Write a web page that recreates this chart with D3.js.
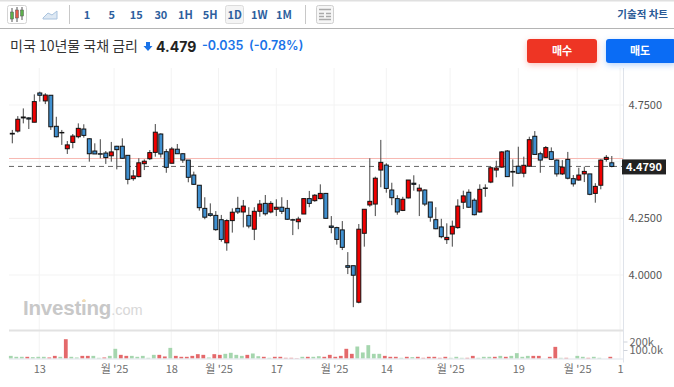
<!DOCTYPE html>
<html>
<head>
<meta charset="utf-8">
<script src="https://cdnjs.cloudflare.com/ajax/libs/d3/7.8.5/d3.min.js"></script>
<style>
  html, body { margin: 0; padding: 0; background: #fff; overflow: hidden; }
  svg { display: block; }
  text { font-family: "Noto Sans CJK KR", "Noto Sans", sans-serif; }
</style>
</head>
<body>
<div id="chart"></div>
<script>
const opens = [4.625,4.635,4.697,4.693,4.674,4.803,4.768,4.793,4.656,4.629,
  4.557,4.585,4.610,4.644,4.601,4.547,4.535,4.538,4.526,4.568,
  4.568,4.528,4.425,4.434,4.491,4.513,4.541,4.622,4.544,4.493,
  4.555,4.535,4.507,4.441,4.396,4.294,4.270,4.263,4.244,4.142,
  4.240,4.294,4.278,4.263,4.202,4.281,4.316,4.278,4.290,4.299,
  4.294,4.244,4.235,4.269,4.337,4.328,4.337,4.360,4.216,4.209,
  4.199,4.041,4.041,3.880,4.184,4.309,4.313,4.463,4.485,4.375,
  4.337,4.285,4.340,4.405,4.371,4.375,4.322,4.244,4.212,4.156,
  4.181,4.209,4.321,4.365,4.330,4.278,4.384,4.410,4.463,4.476,
  4.547,4.457,4.480,4.449,4.480,4.612,4.535,4.519,4.544,4.507,
  4.446,4.510,4.425,4.419,4.446,4.446,4.360,4.396,4.510,4.495]
const highs = [4.640,4.701,4.735,4.696,4.797,4.809,4.802,4.793,4.698,4.640,
  4.591,4.622,4.669,4.665,4.603,4.581,4.599,4.547,4.587,4.570,
  4.603,4.528,4.463,4.515,4.510,4.551,4.666,4.625,4.556,4.565,
  4.578,4.537,4.507,4.456,4.397,4.343,4.316,4.282,4.265,4.246,
  4.294,4.345,4.331,4.299,4.299,4.331,4.353,4.326,4.334,4.343,
  4.331,4.248,4.257,4.338,4.371,4.357,4.400,4.362,4.260,4.213,
  4.238,4.101,4.041,4.225,4.290,4.515,4.434,4.596,4.493,4.407,
  4.352,4.345,4.419,4.440,4.400,4.378,4.322,4.299,4.248,4.228,
  4.240,4.334,4.372,4.378,4.338,4.400,4.400,4.478,4.504,4.546,
  4.551,4.510,4.566,4.522,4.610,4.635,4.544,4.569,4.563,4.510,
  4.507,4.543,4.441,4.473,4.478,4.446,4.405,4.510,4.529,4.525]
const lows = [4.581,4.628,4.669,4.644,4.674,4.765,4.754,4.640,4.607,4.574,
  4.534,4.559,4.603,4.606,4.500,4.534,4.515,4.490,4.500,4.466,
  4.512,4.400,4.416,4.431,4.463,4.507,4.522,4.518,4.451,4.493,
  4.534,4.495,4.409,4.397,4.284,4.246,4.257,4.195,4.147,4.107,
  4.187,4.269,4.210,4.206,4.154,4.257,4.262,4.272,4.260,4.269,
  4.243,4.176,4.202,4.269,4.299,4.323,4.334,4.250,4.184,4.134,
  4.110,4.004,3.858,3.875,4.125,4.301,4.260,4.387,4.363,4.308,
  4.266,4.282,4.338,4.372,4.260,4.304,4.235,4.202,4.162,4.137,
  4.125,4.204,4.291,4.296,4.263,4.275,4.345,4.405,4.431,4.473,
  4.434,4.390,4.446,4.431,4.478,4.530,4.451,4.516,4.507,4.434,
  4.441,4.422,4.390,4.416,4.410,4.352,4.319,4.378,4.500,4.475]
const closes = [4.622,4.687,4.693,4.688,4.765,4.793,4.794,4.654,4.610,4.627,
  4.574,4.613,4.647,4.616,4.535,4.534,4.533,4.518,4.543,4.553,
  4.515,4.422,4.437,4.495,4.502,4.540,4.630,4.534,4.475,4.556,
  4.535,4.507,4.431,4.400,4.297,4.255,4.263,4.200,4.157,4.240,
  4.277,4.278,4.304,4.216,4.281,4.313,4.270,4.316,4.299,4.281,
  4.246,4.242,4.247,4.337,4.316,4.352,4.360,4.250,4.210,4.157,
  4.122,4.034,3.999,4.202,4.290,4.325,4.427,4.497,4.382,4.341,
  4.278,4.334,4.419,4.400,4.383,4.313,4.255,4.204,4.169,4.166,
  4.215,4.304,4.349,4.299,4.266,4.378,4.382,4.473,4.472,4.543,
  4.434,4.454,4.449,4.484,4.597,4.532,4.507,4.562,4.510,4.446,
  4.476,4.427,4.402,4.441,4.457,4.356,4.391,4.507,4.519,4.479]

// volume in thousands, and whether the bar is the red kind
const volumes = [31,20,20,20,16,20,20,12,31,20,
  227,20,12,31,31,31,8,12,31,114,
  43,31,31,20,31,8,43,43,24,125,
  31,20,20,31,51,43,12,51,43,55,
  67,43,31,43,59,27,20,8,20,20,
  8,8,4,20,20,20,27,20,43,20,
  31,114,55,141,71,157,55,55,31,20,
  20,8,20,16,20,8,20,20,8,20,
  8,20,8,8,31,8,20,20,20,31,
  20,31,63,20,31,31,31,0,20,137,
  8,8,0,31,20,8,20,8,0,20]
const volumeRed = [0,0,0,1,0,0,0,1,1,0,
  1,0,0,1,1,0,0,1,0,0,
  1,1,0,0,0,0,0,1,1,0,
  1,1,1,1,1,1,0,1,1,0,
  0,0,0,1,0,0,1,0,1,1,
  1,1,1,0,1,0,0,1,1,1,
  1,1,1,0,0,0,0,0,1,1,
  1,0,1,0,1,1,1,1,1,1,
  0,0,0,1,1,0,0,0,1,0,
  1,0,0,0,0,1,1,0,1,1,
  0,1,0,0,0,1,0,0,0,1]

const priceTicks = [4.75, 4.5, 4.25, 4.0]
const priceLabels = [4.75, 4.25, 4.0]
const volumeTicks = [200, 100]
const timeTicks = [4.9, 18.5, 28.9, 37.5, 48, 58.5, 68, 79.6, 92, 102.7, 110.5]
const timeLabels = ['13', "월 '25", '18', "월 '25", '17', "월 '25", '14', "월 '25", '19', "월 '25", '1']
const intervals = ['1', '5', '15', '30', '1H', '5H', '1D', '1W', '1M']
const lastPrice = 4.479
const prevClose = 4.514

const width = 674
const height = 387
const plot = { left: 9, right: 623.5, top: 68, bottom: 358.5 }

const svg = d3.select('#chart').append('svg')
  .attr('width', width)
  .attr('height', height)

const x = d3.scaleLinear().domain([0, 109]).range([12.3, 611.8])
const y = d3.scaleLinear().domain([4.0, 4.75]).range([275, 105])
const yVol = d3.scaleLinear().domain([0, 200]).range([358.5, 341.5])

// chart grid
const grid = svg.append('g').attr('stroke', '#f3f3f3')
grid.selectAll('.h').data(priceTicks).join('line')
  .attr('x1', plot.left).attr('x2', plot.right)
  .attr('y1', d => y(d)).attr('y2', d => y(d))
grid.selectAll('.v').data(timeTicks).join('line')
  .attr('x1', d => x(d)).attr('x2', d => x(d))
  .attr('y1', plot.top).attr('y2', plot.bottom)

// watermark
const mark = svg.append('text')
  .attr('x', 23).attr('y', 315)
  .attr('fill', '#c8c8c8')
  .style('font-family', '"Liberation Sans", sans-serif')
mark.append('tspan')
  .attr('font-size', 20.5).attr('font-weight', 700).attr('letter-spacing', -0.2)
  .text('Investing')
mark.append('tspan')
  .attr('font-size', 14.5).attr('fill', '#d8d8d8')
  .text('.com')
svg.append('circle').attr('cx', 84).attr('cy', 300.5).attr('r', 1.5).attr('fill', '#f6dcae')

// reference lines
svg.append('line')
  .attr('x1', plot.left).attr('x2', plot.right)
  .attr('y1', y(prevClose)).attr('y2', y(prevClose))
  .attr('stroke', '#f7b9b3')
svg.append('line')
  .attr('x1', plot.left).attr('x2', plot.right)
  .attr('y1', y(lastPrice)).attr('y2', y(lastPrice))
  .attr('stroke', '#666')
  .attr('stroke-dasharray', '5 4')

// candles
const candles = svg.append('g').selectAll('g')
  .data(d3.range(opens.length))
  .join('g')

candles.append('line')
  .attr('x1', i => x(i)).attr('x2', i => x(i))
  .attr('y1', i => y(highs[i])).attr('y2', i => y(lows[i]))
  .attr('stroke', '#444')

candles.append('rect')
  .attr('x', i => x(i) - 2)
  .attr('width', 4)
  .attr('y', i => y(Math.max(opens[i], closes[i])))
  .attr('height', i => Math.abs(y(opens[i]) - y(closes[i])))
  .attr('fill', i => closes[i] >= opens[i] ? '#f00000' : '#4090d0')
  .attr('stroke', '#111')

// volume bars
svg.append('g').selectAll('rect')
  .data(volumes)
  .join('rect')
  .attr('x', (d, i) => x(i) - 3.4)
  .attr('width', 3.8)
  .attr('y', d => yVol(d))
  .attr('height', d => yVol(0) - yVol(d))
  .attr('fill', (d, i) => volumeRed[i] ? '#e4696b' : '#a5d6ae')

// panel frame
svg.append('rect')
  .attr('x', plot.left).attr('y', 329.5)
  .attr('width', plot.right - plot.left).attr('height', 2)
  .attr('fill', '#e2e2e2')
svg.append('line')
  .attr('x1', plot.left).attr('x2', plot.right)
  .attr('y1', plot.bottom + 0.5).attr('y2', plot.bottom + 0.5)
  .attr('stroke', '#dfe3ea')
svg.append('line')
  .attr('x1', plot.right).attr('x2', plot.right)
  .attr('y1', plot.top).attr('y2', plot.bottom + 4)
  .attr('stroke', '#dfe3ea')

// axes
const priceAxis = svg.append('g')
  .attr('transform', `translate(${plot.right},0)`)
  .call(d3.axisRight(y).tickValues(priceLabels).tickFormat(d3.format('.4f')).tickSize(0).tickPadding(5))
priceAxis.select('.domain').remove()
priceAxis.selectAll('text').attr('font-size', 11).attr('fill', '#555')

const volAxis = svg.append('g')
  .attr('transform', `translate(${plot.right},0)`)
  .call(d3.axisRight(yVol).tickValues(volumeTicks)
    .tickFormat(d => d === 100 ? '100.0k' : d + 'k').tickSize(4).tickPadding(2))
volAxis.select('.domain').remove()
volAxis.selectAll('line').attr('stroke', '#cfd3da')
volAxis.selectAll('text').attr('font-size', 11).attr('fill', '#666')

const timeAxis = svg.append('g')
  .attr('transform', `translate(0,${plot.bottom})`)
  .call(d3.axisBottom(x).tickValues(timeTicks)
    .tickFormat((d, i) => timeLabels[i]).tickSize(0).tickPadding(7))
timeAxis.select('.domain').remove()
timeAxis.selectAll('text').attr('font-size', 11).attr('fill', '#707070')

// last price tag
svg.append('rect')
  .attr('x', 622).attr('y', y(lastPrice) - 7)
  .attr('width', 44).attr('height', 15)
  .attr('fill', '#222')
svg.append('text')
  .attr('x', 644).attr('y', y(lastPrice) + 0.5)
  .attr('dy', '0.35em').attr('text-anchor', 'middle')
  .attr('font-size', 11).attr('font-weight', 700).attr('fill', '#fff')
  .text(d3.format('.4f')(lastPrice))

// toolbar
svg.append('rect').attr('x', 0).attr('y', 0).attr('width', width).attr('height', 1.5).attr('fill', '#e0e0e0')
svg.append('rect').attr('x', 0).attr('y', 28).attr('width', width).attr('height', 1).attr('fill', '#b4b4b4')

svg.append('rect')
  .attr('x', 7.5).attr('y', 5.5).attr('width', 19).attr('height', 18).attr('rx', 2)
  .attr('fill', '#fff').attr('stroke', '#d4d4d4')
const icon = [[12, 8, 22, 12, 19, '#5cb04a'], [17, 7, 22, 10, 18, '#e25a4a'], [22, 7, 20, 10, 16, '#5cb04a']]
icon.forEach(([ix, top, bot, bt, bb, c]) => {
  svg.append('line').attr('x1', ix).attr('x2', ix).attr('y1', top).attr('y2', bot).attr('stroke', '#555')
  svg.append('rect').attr('x', ix - 1.5).attr('y', bt).attr('width', 3).attr('height', bb - bt).attr('fill', c).attr('stroke', '#555').attr('stroke-width', 0.5)
})
svg.append('path')
  .attr('d', 'M43 18 L48 13 L52 15 L57 11 L57 19 L43 19 Z')
  .attr('fill', '#dde8f3').attr('stroke', '#a9c3de')
svg.append('line').attr('x1', 69.5).attr('x2', 69.5).attr('y1', 5).attr('y2', 24).attr('stroke', '#c8c8c8')
svg.append('line').attr('x1', 305.5).attr('x2', 305.5).attr('y1', 5).attr('y2', 24).attr('stroke', '#c8c8c8')

const intervalX = d3.scalePoint().domain(intervals).range([87, 284])
svg.append('rect')
  .attr('x', 225.5).attr('y', 5.5).attr('width', 18).attr('height', 18).attr('rx', 2)
  .attr('fill', '#f4f4f4').attr('stroke', '#dcdcdc')
svg.append('g').selectAll('text').data(intervals).join('text')
  .attr('x', d => intervalX(d)).attr('y', 18.5)
  .attr('text-anchor', 'middle')
  .attr('font-size', 11).attr('font-weight', 700).attr('fill', '#2e5f9e')
  .text(d => d)

svg.append('rect')
  .attr('x', 316.5).attr('y', 5.5).attr('width', 17).attr('height', 18).attr('rx', 2)
  .attr('fill', '#f6f6f6').attr('stroke', '#cfcfcf')
svg.append('path')
  .attr('d', 'M319 9.5 H331 M319 13.5 H324 M326 13.5 H331 M319 16.5 H324 M326 16.5 H331 M319 19.5 H331')
  .attr('stroke', '#aaa').attr('stroke-width', 1.5)

svg.append('text')
  .attr('x', 668).attr('y', 18)
  .attr('text-anchor', 'end')
  .attr('font-size', 10.5).attr('font-weight', 700).attr('fill', '#2a5a96')
  .text('기술적 차트')

// title row
svg.append('text')
  .attr('x', 10).attr('y', 51)
  .attr('font-size', 14).attr('fill', '#333')
  .text('미국 10년물 국채 금리')
svg.append('path')
  .attr('d', 'M146 42 H150 V46 H152.5 L148 51 L143.5 46 H146 Z')
  .attr('fill', '#1a73e8')
svg.append('text')
  .attr('x', 156).attr('y', 52)
  .attr('font-size', 14).attr('font-weight', 700).attr('fill', '#222')
  .style('font-family', '"Inter", sans-serif')
  .text('4.479')
svg.append('text')
  .attr('x', 202).attr('y', 50)
  .attr('font-size', 12.5).attr('font-weight', 600).attr('fill', '#1a73e8')
  .style('font-family', '"Inter", sans-serif')
  .text('-0.035')
svg.append('text')
  .attr('x', 249).attr('y', 50)
  .attr('font-size', 12.5).attr('font-weight', 600).attr('fill', '#1a73e8')
  .style('font-family', '"Inter", sans-serif')
  .text('(-0.78%)')

// buttons
const buttons = [
  { label: '매수', x0: 527, w: 70, fill: '#ee3524', glow: 'rgba(238,53,36,0.3)' },
  { label: '매도', x0: 606, w: 70, fill: '#0a6cf5', glow: 'rgba(10,108,245,0.3)' }
]
const btn = svg.append('g').selectAll('g').data(buttons).join('g')
btn.append('rect')
  .attr('x', d => d.x0).attr('y', 39)
  .attr('width', d => d.w).attr('height', 24).attr('rx', 3)
  .attr('fill', d => d.fill)
  .style('filter', d => `drop-shadow(0 2px 3px ${d.glow})`)
btn.append('text')
  .attr('x', d => d.x0 + d.w / 2 - (d.x0 > 600 ? 1 : 0)).attr('y', 55)
  .attr('text-anchor', 'middle')
  .attr('font-size', 11).attr('font-weight', 700).attr('fill', '#fff')
  .text(d => d.label)
</script>
</body>
</html>
